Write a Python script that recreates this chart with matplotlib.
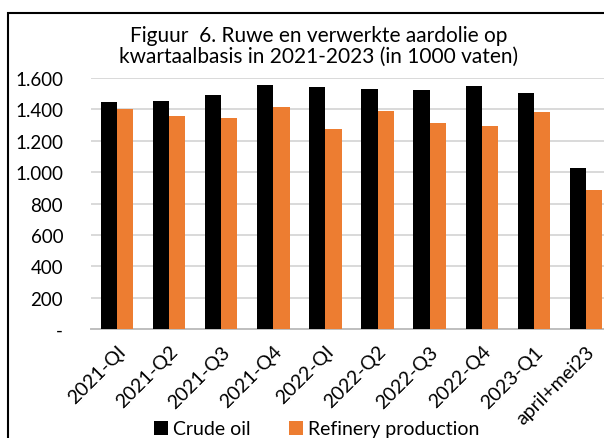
import matplotlib
matplotlib.use("Agg")
import matplotlib.pyplot as plt
import matplotlib.patches as patches
import matplotlib.transforms as mtransforms
from matplotlib.ticker import FuncFormatter
import numpy as np

# data
categories = ["2021-QI", "2021-Q2", "2021-Q3", "2021-Q4", "2022-QI", "2022-Q2",
              "2022-Q3", "2022-Q4", "2023-Q1", "april+mei23"]
crude_oil = [1445, 1456, 1492, 1558, 1541, 1532, 1524, 1549, 1503, 1024]
refinery = [1403, 1357, 1346, 1418, 1274, 1390, 1310, 1291, 1382, 889]

plt.rcParams['font.family'] = ['Lato', 'DejaVu Sans']

W, H = 604, 439
fig = plt.figure(figsize=(W / 100, H / 100), dpi=100)

# plot area: x 91..612 (runs past the right edge), zero at y=330, 1600 at y=79
ax = fig.add_axes([91 / W, (H - 330) / H, (612 - 91) / W, (330 - 79) / H])
ax.set_xlim(-0.5, len(categories) - 0.5)
ax.set_ylim(0, 1600)

x = np.arange(len(categories))
bw = 0.31
ax.bar(x - bw / 2, crude_oil, width=bw, color='black', label='Crude oil', zorder=3)
ax.bar(x + bw / 2, refinery, width=bw, color='#ED7D31', label='Refinery production', zorder=3)

ax.set_yticks(np.arange(0, 1601, 200))
ax.yaxis.set_major_formatter(FuncFormatter(
    lambda v, p: '-' if v == 0 else f"{int(v):,}".replace(',', '.')))
ax.grid(axis='y', color='#d9d9d9', linewidth=1.4, zorder=0)
for s in ['top', 'right', 'left']:
    ax.spines[s].set_visible(False)
ax.spines['bottom'].set_color('#bfbfbf')
ax.spines['bottom'].set_linewidth(1.4)
ax.tick_params(axis='y', length=0, labelsize=13.5, pad=20)
ax.tick_params(axis='x', length=0, labelsize=14, pad=14)
ax.set_xticks(x)
ax.set_xticklabels(categories, rotation=45, ha='right', va='center',
                   rotation_mode='anchor')
shift = mtransforms.ScaledTranslation(6 / 100, 0, fig.dpi_scale_trans)
for lbl in ax.get_xticklabels():
    lbl.set_transform(lbl.get_transform() + shift)

fig.text(319 / W, 1 - 42 / H, "Figuur  6. Ruwe en verwerkte aardolie op",
         ha='center', va='baseline', fontsize=15)
fig.text(319 / W, 1 - 63 / H, "kwartaalbasis in 2021-2023 (in 1000 vaten)",
         ha='center', va='baseline', fontsize=15)

fig.legend(loc='center', bbox_to_anchor=(316.5 / W, 1 - 430 / H), ncol=2,
           frameon=False, fontsize=14, handlelength=0.72, handleheight=0.72,
           handletextpad=0.25, columnspacing=2.0, borderpad=0)

# outer chart frame, cut off at the right and bottom
frame = patches.Rectangle((8 / W, -0.05), 1.2, 1 - 14 / H + 0.05,
                          transform=fig.transFigure, fill=False,
                          edgecolor='black', linewidth=1.5)
fig.patches.append(frame)

fig.savefig("out.png", dpi=100)
